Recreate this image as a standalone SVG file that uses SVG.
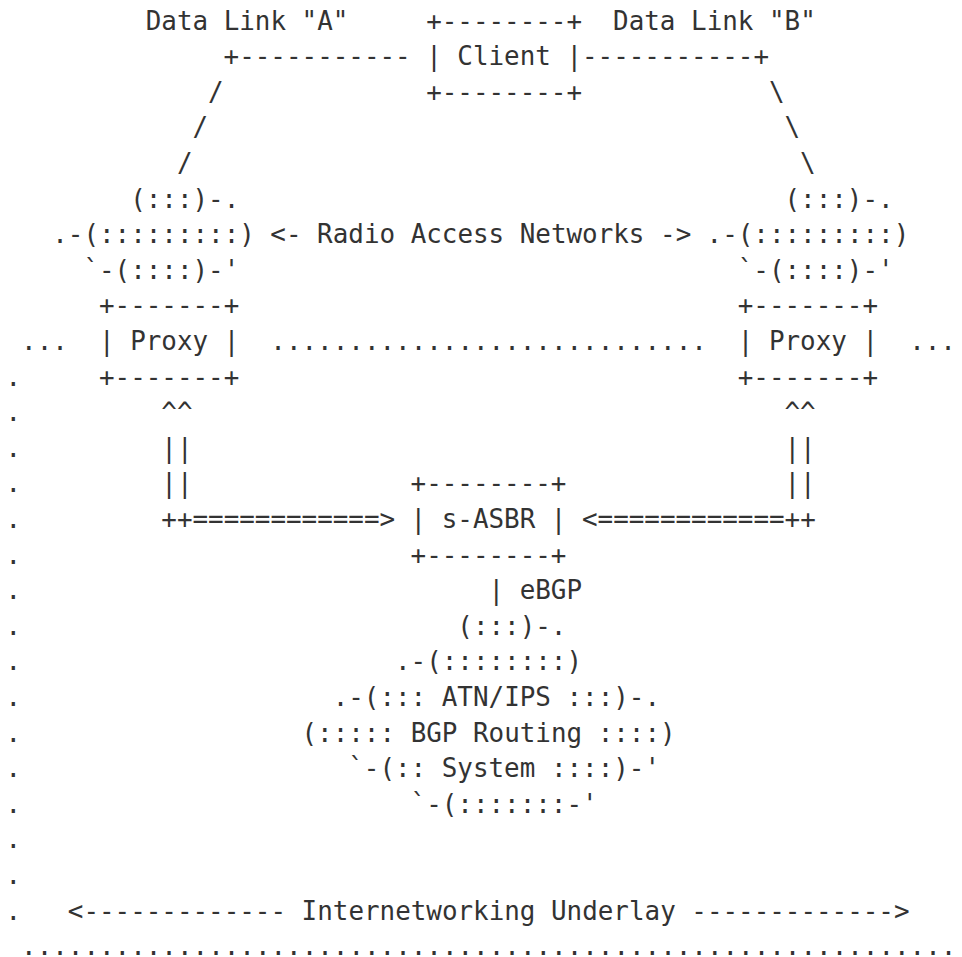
<svg xmlns="http://www.w3.org/2000/svg" width="962" height="957" viewBox="0 0 962 957" xml:space="preserve">
<style>
text { font-family: "DejaVu Sans Mono", "Liberation Mono", monospace; font-size: 25.9px; fill: #333333; }
</style>
<rect x="0" y="0" width="962" height="957" fill="#ffffff"/>
<g id="connectors">
  <text x="223.62" y="65.1">+-----------</text>
  <text x="581.96" y="65.1">-----------+</text>
  <text x="208.04" y="100.7">/</text>
  <text x="768.92" y="100.7">\</text>
  <text x="192.46" y="136.3">/</text>
  <text x="784.5" y="136.3">\</text>
  <text x="176.88" y="171.9">/</text>
  <text x="800.08" y="171.9">\</text>
  <text x="161.3" y="421.1">^^</text>
  <text x="784.5" y="421.1">^^</text>
  <text x="161.3" y="456.7">||</text>
  <text x="784.5" y="456.7">||</text>
  <text x="161.3" y="492.3">||</text>
  <text x="784.5" y="492.3">||</text>
  <text x="161.3" y="527.9">++============&gt;</text>
  <text x="581.96" y="527.9">&lt;============++</text>
  <text x="488.48" y="599.1">| eBGP</text>
</g>
<g id="labels">
  <text x="145.72" y="29.5">Data Link "A"</text>
  <text x="613.12" y="29.5">Data Link "B"</text>
  <text x="270.36" y="243.1">&lt;- Radio Access Networks -&gt;</text>
  <text x="67.82" y="919.5">&lt;------------- Internetworking Underlay -------------&gt;</text>
</g>
<g id="client">
  <text x="426.16" y="29.5">+--------+</text>
  <text x="426.16" y="65.1">| Client |</text>
  <text x="426.16" y="100.7">+--------+</text>
</g>
<g id="ran-left">
  <text x="130.14" y="207.5">(:::)-.</text>
  <text x="52.24" y="243.1">.-(:::::::::)</text>
  <text x="83.4" y="278.7">`-(::::)-'</text>
</g>
<g id="ran-right">
  <text x="784.5" y="207.5">(:::)-.</text>
  <text x="706.6" y="243.1">.-(:::::::::)</text>
  <text x="737.76" y="278.7">`-(::::)-'</text>
</g>
<g id="proxy-left">
  <text x="98.98" y="314.3">+-------+</text>
  <text x="98.98" y="349.9">| Proxy |</text>
  <text x="98.98" y="385.5">+-------+</text>
</g>
<g id="proxy-right">
  <text x="737.76" y="314.3">+-------+</text>
  <text x="737.76" y="349.9">| Proxy |</text>
  <text x="737.76" y="385.5">+-------+</text>
</g>
<g id="s-asbr">
  <text x="410.58" y="492.3">+--------+</text>
  <text x="410.58" y="527.9">| s-ASBR |</text>
  <text x="410.58" y="563.5">+--------+</text>
</g>
<g id="atn-ips">
  <text x="457.32" y="634.7">(:::)-.</text>
  <text x="395.0" y="670.3">.-(::::::::)</text>
  <text x="332.68" y="705.9">.-(::: ATN/IPS :::)-.</text>
  <text x="301.52" y="741.5">(::::: BGP Routing ::::)</text>
  <text x="348.26" y="777.1">`-(:: System ::::)-'</text>
  <text x="410.58" y="812.7">`-(:::::::-'</text>
</g>
<g id="underlay-boundary">
  <text x="21.08" y="349.9">...</text>
  <text x="270.36" y="349.9">............................</text>
  <text x="909.14" y="349.9">...</text>
  <text x="5.5" y="385.5">.</text>
  <text x="5.5" y="421.1">.</text>
  <text x="5.5" y="456.7">.</text>
  <text x="5.5" y="492.3">.</text>
  <text x="5.5" y="527.9">.</text>
  <text x="5.5" y="563.5">.</text>
  <text x="5.5" y="599.1">.</text>
  <text x="5.5" y="634.7">.</text>
  <text x="5.5" y="670.3">.</text>
  <text x="5.5" y="705.9">.</text>
  <text x="5.5" y="741.5">.</text>
  <text x="5.5" y="777.1">.</text>
  <text x="5.5" y="812.7">.</text>
  <text x="5.5" y="848.3">.</text>
  <text x="5.5" y="883.9">.</text>
  <text x="5.5" y="919.5">.</text>
  <text x="21.08" y="955.1">............................................................</text>
</g>
</svg>
